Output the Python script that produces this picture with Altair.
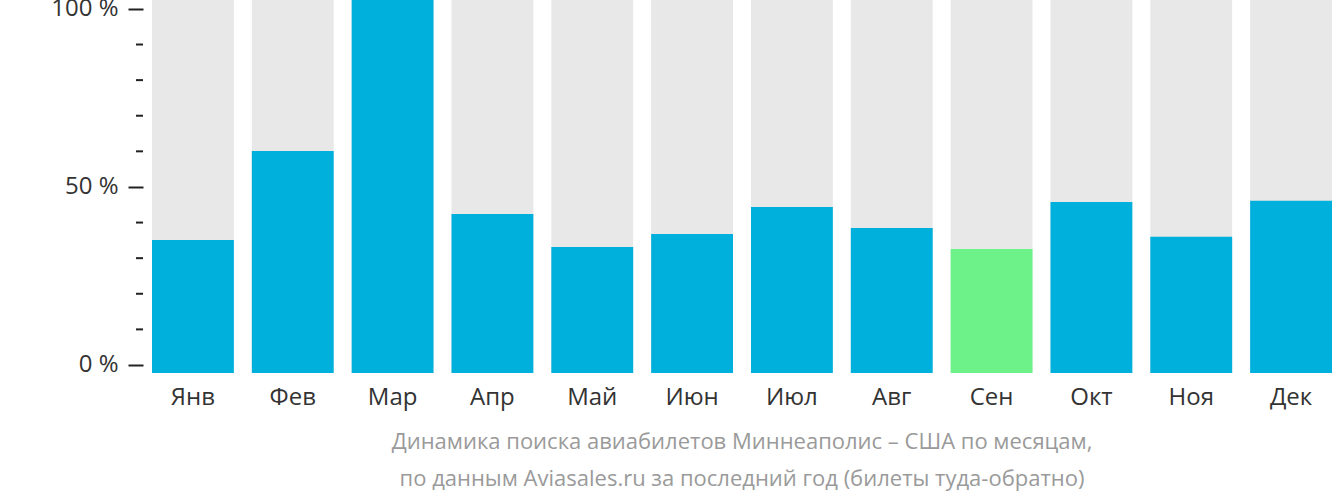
import altair as alt
import pandas as pd

months = ["Янв", "Фев", "Мар", "Апр", "Май", "Июн", "Июл", "Авг", "Сен", "Окт", "Ноя", "Дек"]
values = [35.1, 60.1, 102.5, 42.4, 33.1, 36.8, 44.4, 38.5, 32.6, 45.8, 36.0, 46.1]
highlight = [False, False, False, False, False, False, False, False, True, False, False, False]
major_ticks = [0, 50, 100]
minor_ticks = [10, 20, 30, 40, 60, 70, 80, 90]
subtitle = ["Динамика поиска авиабилетов Миннеаполис – США по месяцам,",
            "по данным Aviasales.ru за последний год (билеты туда-обратно)"]

Y_MIN, Y_MAX = -2.25, 102.5
FONT = "Open Sans"

df = pd.DataFrame({"month": months, "value": values, "hl": highlight,
                   "top": [Y_MAX] * len(months), "base": [Y_MIN] * len(months)})
ticks_df = pd.DataFrame({"t": minor_ticks})

yscale = alt.Scale(domain=[Y_MIN, Y_MAX], nice=False, zero=False)
xenc = alt.X("month:N", sort=months,
             scale=alt.Scale(paddingInner=0.18, paddingOuter=0),
             axis=alt.Axis(title=None, labelAngle=0, ticks=False, domain=False,
                           labelFontSize=24, labelFont=FONT, labelColor="#333333",
                           labelPadding=12))

bg = alt.Chart(df).mark_bar(color="#e8e8e8").encode(
    x=xenc,
    y=alt.Y("top:Q", scale=yscale,
            axis=alt.Axis(title=None, values=major_ticks, tickSize=15, tickWidth=2,
                          tickColor="#222222", domain=False, grid=False, offset=9,
                          labelFontSize=24, labelFont=FONT, labelColor="#333333",
                          labelPadding=10, labelExpr="datum.value + ' %'")),
    y2="base:Q",
)

bars = alt.Chart(df).mark_bar().encode(
    x=alt.X("month:N", sort=months),
    y=alt.Y("value:Q", scale=yscale),
    y2="base:Q",
    color=alt.Color("hl:N", scale=alt.Scale(domain=[False, True], range=["#00b0dc", "#6cf288"]),
                    legend=None),
)

minor = alt.Chart(ticks_df).mark_rule(color="#222222", strokeWidth=2).encode(
    y=alt.Y("t:Q", scale=yscale),
    x=alt.value(-16),
    x2=alt.value(-9),
)

chart = alt.layer(bg, bars, minor).properties(
    width=1180, height=373,
    autosize=alt.AutoSizeParams(type="none"),
    padding={"left": 152, "top": 0, "right": 0, "bottom": 129},
    title=alt.TitleParams(text=subtitle, orient="bottom", anchor="middle",
                          font=FONT, fontSize=22, fontWeight="normal",
                          color="#9a9a9a", lineHeight=37, offset=23),
).configure_view(stroke=None)

chart.save("out.html", embed_options={"renderer": "svg", "actions": False})
